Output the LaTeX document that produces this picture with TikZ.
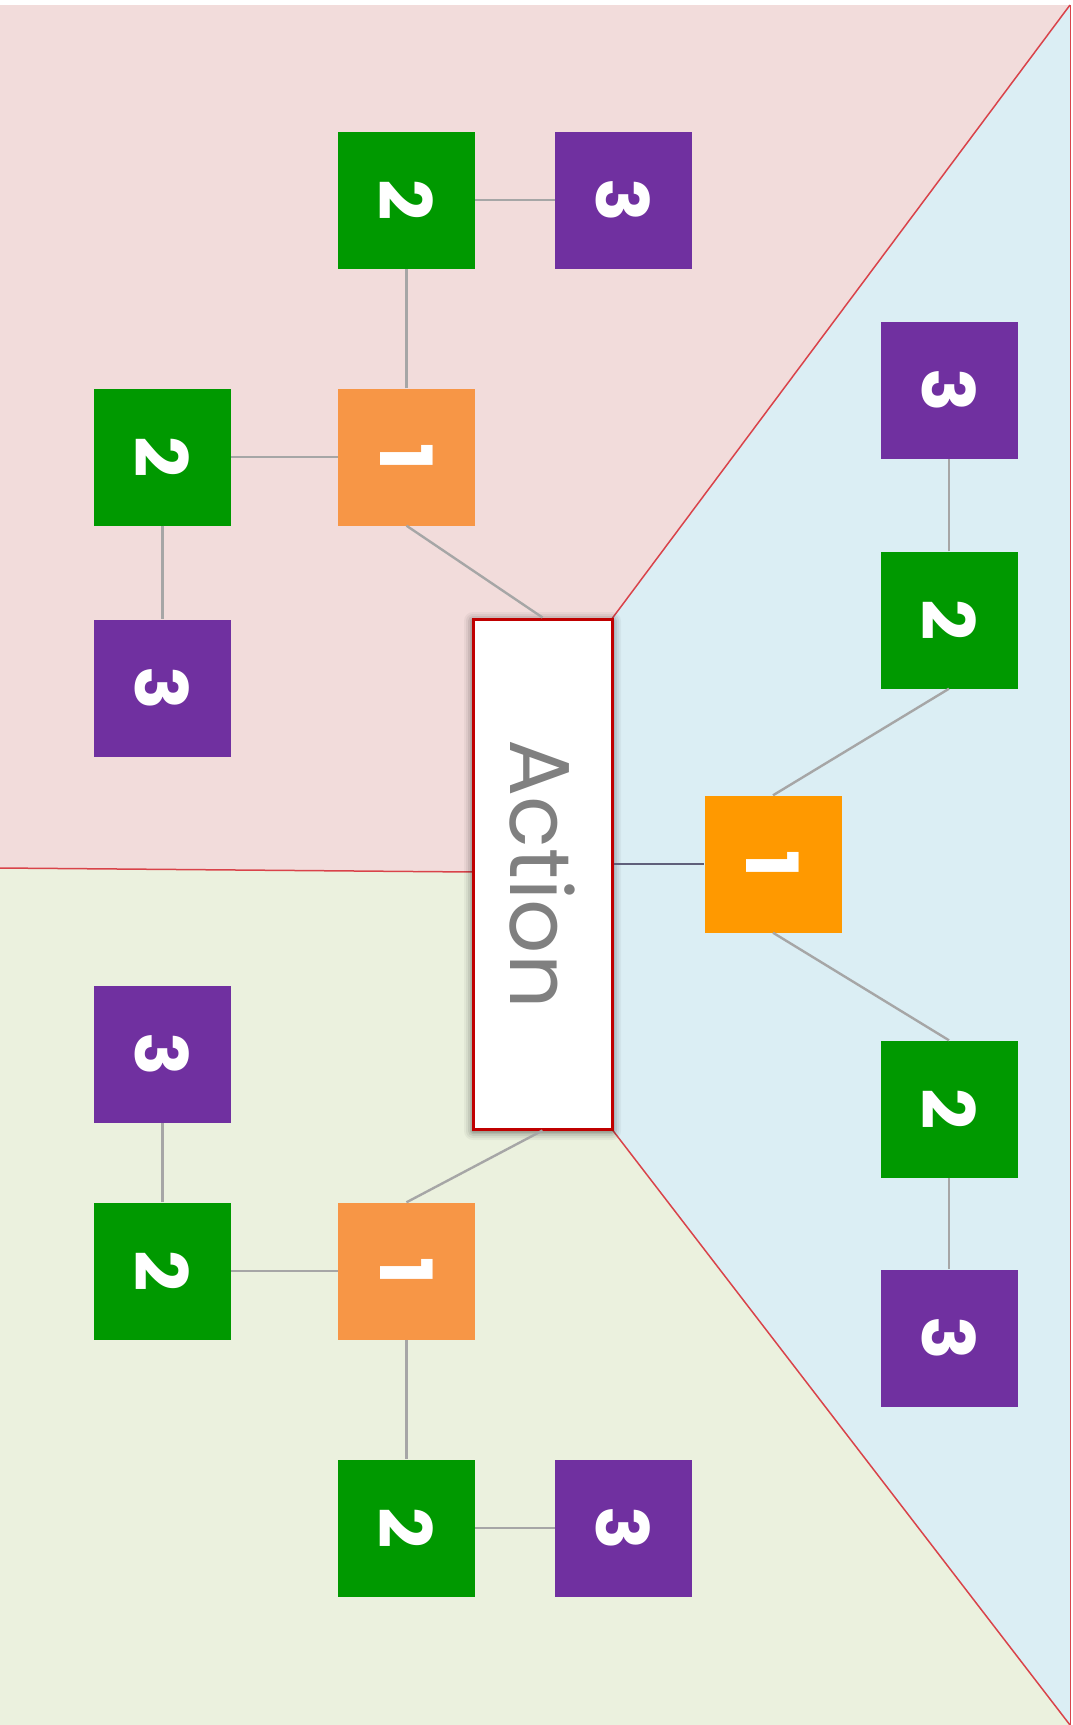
\documentclass[tikz,border=0pt]{standalone}
\usepackage{fontspec}
\setmainfont{Poppins}
\definecolor{pinkbg}{HTML}{F2DCDB}
\definecolor{bluebg}{HTML}{DBEEF4}
\definecolor{greenbg}{HTML}{EBF1DE}
\definecolor{orA}{HTML}{F79646}
\definecolor{orB}{HTML}{FF9900}
\definecolor{grn}{HTML}{009900}
\definecolor{pur}{HTML}{7030A0}
\definecolor{conngray}{HTML}{A6A6A6}
\definecolor{regred}{HTML}{D9434A}
\definecolor{boxred}{HTML}{C00000}
\definecolor{txtgray}{HTML}{808080}
\definecolor{darkline}{HTML}{5F5F7A}
\tikzset{
  sq/.style={minimum size=137pt, inner sep=0pt, text=white, font=\fontsize{72}{72}\selectfont\bfseries},
  one/.style={sq, fill=orA},
  oneb/.style={sq, fill=orB},
  two/.style={sq, fill=grn},
  three/.style={sq, fill=pur},
  conn/.style={draw=conngray, line width=2.4pt},
  regline/.style={draw=regred, line width=1.5pt}
}
\newcommand{\rot}[1]{\rotatebox{-90}{#1}}
\begin{document}
\begin{tikzpicture}[x=1pt,y=-1pt]
\useasboundingbox (0,0) rectangle (1072,1725);
\fill[white] (0,0) rectangle (1072,1725);
% regions
\fill[pinkbg] (0,5) -- (1070,5) -- (611,620) -- (611,872) -- (0,868) -- cycle;
\fill[bluebg] (1070,5) -- (1070,1725) -- (611,1128) -- (611,620) -- cycle;
\fill[greenbg] (0,868) -- (611,872) -- (611,1128) -- (1070,1725) -- (0,1725) -- cycle;
\draw[regline] (1070,5) -- (611,620);
\draw[regline] (611,1128) -- (1070,1725);
\draw[regline] (0,868) -- (474,872);
\draw[draw=regred, line width=1pt] (1070,5) -- (1070,1725);
% shadow of action box
\foreach \s/\o in {9/0.04,7/0.05,5/0.07,3/0.09,1.5/0.12}{
  \fill[black, opacity=\o, rounded corners=\s pt] (473-\s,619-\s+2) rectangle (612+\s,1129+\s+2);
}
% nodes
\node[draw=boxred, line width=3pt, fill=white, minimum width=139pt, minimum height=510pt, inner sep=0pt,
      text=txtgray, font=\fontsize{85}{85}\selectfont] (act) at (542.5,874) {\rot{Action}};
% pink
\node[two] (pg1) at (406.5,200) {\rot{2}};
\node[three] (pp1) at (623.5,200) {\rot{3}};
\node[one] (po) at (406.5,457) {\rot{1}};
\node[two] (pg2) at (162.5,457) {\rot{2}};
\node[three] (pp2) at (162.5,688) {\rot{3}};
% blue
\node[three] (bp1) at (949,390) {\rot{3}};
\node[two] (bg1) at (949,620) {\rot{2}};
\node[oneb] (bo) at (773,864) {\rot{1}};
\node[two] (bg2) at (949,1109) {\rot{2}};
\node[three] (bp2) at (949,1338) {\rot{3}};
% green
\node[three] (gp1) at (162.5,1054) {\rot{3}};
\node[two] (gg1) at (162.5,1271) {\rot{2}};
\node[one] (go) at (406.5,1271) {\rot{1}};
\node[two] (gg2) at (406.5,1528) {\rot{2}};
\node[three] (gp2) at (623.5,1528) {\rot{3}};
% connectors
\draw[conn] (po.south) -- (act.north);
\draw[conn] (po.west) -- (pg2.east);
\draw[conn] (po.north) -- (pg1.south);
\draw[conn] (pg1.east) -- (pp1.west);
\draw[conn] (pg2.south) -- (pp2.north);
\draw[draw=darkline, line width=1.5pt] (act.east |- bo.west) -- (bo.west);
\draw[conn] (bo.north) -- (bg1.south);
\draw[conn] (bg1.north) -- (bp1.south);
\draw[conn] (bo.south) -- (bg2.north);
\draw[conn] (bg2.south) -- (bp2.north);
\draw[conn] (act.south) -- (go.north);
\draw[conn] (go.west) -- (gg1.east);
\draw[conn] (gg1.north) -- (gp1.south);
\draw[conn] (go.south) -- (gg2.north);
\draw[conn] (gg2.east) -- (gp2.west);
\end{tikzpicture}
\end{document}
